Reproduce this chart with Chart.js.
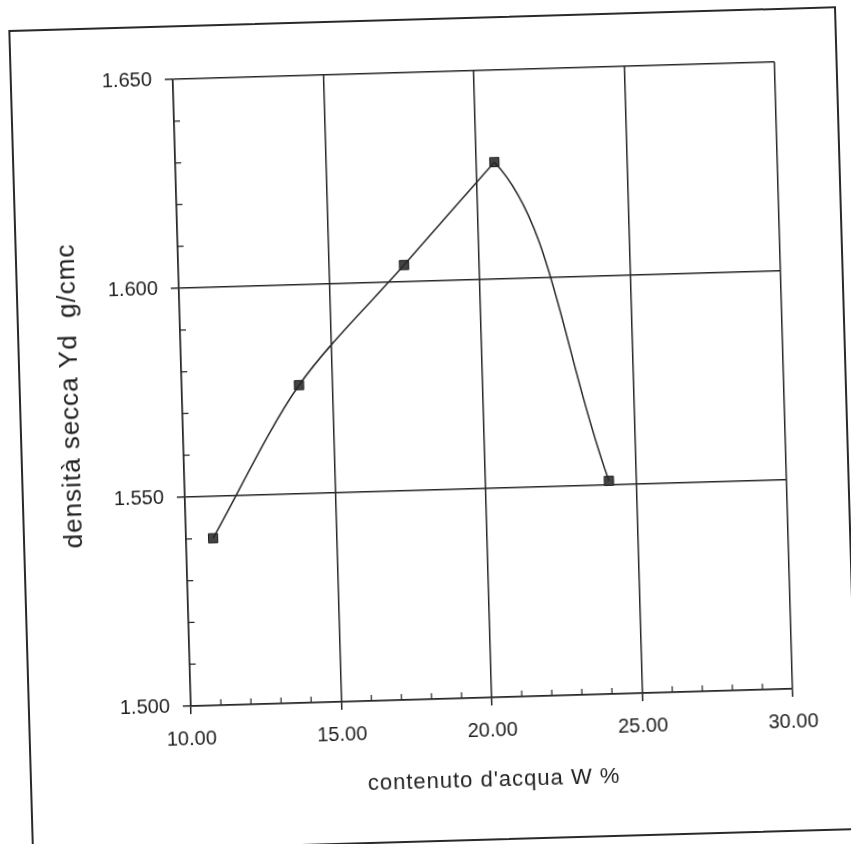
<!DOCTYPE html>
<html>
<head>
<meta charset="utf-8">
<script src="https://cdn.jsdelivr.net/npm/chart.js@4"></script>
<style>
  html, body { margin: 0; padding: 0; background: #fff; }
  body { width: 851px; height: 844px; overflow: hidden; position: relative; }
  .sheet {
    position: absolute; left: 20px; top: 18px;
    width: 828px; height: 824px; box-sizing: border-box;
    border: 2px solid #2a2a2a;
    transform: rotate(-1.65deg);
  }
  .sheet canvas { display: block; }
</style>
</head>
<body>
<div class="sheet">
  <canvas id="proctor" width="824" height="808"></canvas>
</div>
<script>
// dati prova di costipamento
const waterContent = [10.9, 13.9, 17.5, 20.6, 24.1];
const dryDensity = [1.540, 1.576, 1.604, 1.628, 1.551];
const xTicks = [10, 15, 20, 25, 30];
const yTicks = [1.500, 1.550, 1.600, 1.650];

const ink = '#262626';
const font = '"Liberation Sans", Arial, Helvetica, sans-serif';

const points = waterContent.map((w, i) => ({ x: w, y: dryDensity[i] }));
const peak = dryDensity.indexOf(Math.max(...dryDensity));
const dryBranch = points.slice(0, peak + 1);   // fino all'optimum
const wetBranch = points.slice(peak - 1);      // optimum -> lato umido

// piccole tacche interne (ogni 1 % e ogni 0.010)
const minorTicks = {
  id: 'minorTicks',
  beforeDraw(chart) { chart.ctx.letterSpacing = '1px'; },        // titoli assi un po' larghi
  beforeDatasetsDraw(chart) { chart.ctx.letterSpacing = '0px'; }, // etichette normali
  afterDatasetsDraw(chart) {
    const { ctx, chartArea, scales } = chart;
    ctx.save();
    ctx.strokeStyle = ink;
    ctx.lineWidth = 1.2;
    ctx.beginPath();
    for (let v = 11; v < 30; v++) {
      if (v % 5 === 0) continue;
      const x = scales.x.getPixelForValue(v);
      ctx.moveTo(x, chartArea.bottom);
      ctx.lineTo(x, chartArea.bottom - 6);
    }
    for (let i = 1; i < 15; i++) {
      if (i % 5 === 0) continue;
      const y = scales.y.getPixelForValue(1.5 + i * 0.01);
      ctx.moveTo(chartArea.left, y);
      ctx.lineTo(chartArea.left + 6, y);
    }
    ctx.stroke();
    ctx.restore();
  }
};

new Chart(document.getElementById('proctor'), {
  type: 'scatter',
  data: {
    datasets: [{
      data: dryBranch,
      showLine: true,
      tension: 0.3,
      borderColor: ink,
      borderWidth: 1.5,
      pointRadius: 0
    }, {
      data: wetBranch,
      showLine: true,
      tension: 0.4,
      borderColor: ink,
      borderWidth: 1.5,
      pointRadius: 0,
      segment: { borderColor: c => c.p0DataIndex === 0 ? 'transparent' : ink }
    }, {
      data: points,
      showLine: false,
      pointStyle: 'rect',
      pointRadius: 6.5,
      pointBackgroundColor: '#444',
      pointBorderColor: '#1e1e1e',
      pointBorderWidth: 1
    }]
  },
  options: {
    responsive: false,
    animation: false,
    layout: { padding: { left: 30, top: 52, right: 61, bottom: 29 } },
    plugins: { legend: { display: false }, tooltip: { enabled: false } },
    scales: {
      x: {
        type: 'linear', min: 10, max: 30,
        afterBuildTicks: s => { s.ticks = xTicks.map(v => ({ value: v })); },
        afterFit: s => { s.height = 100; },
        grid: { color: ink, lineWidth: 1.5, tickLength: 8, tickColor: ink },
        border: { color: ink, width: 1.5 },
        ticks: { z: 1, color: '#222', font: { family: font, size: 20 }, padding: 13, callback: v => Number(v).toFixed(2) },
        title: { display: true, text: "contenuto d'acqua W %", color: '#222', font: { family: font, size: 22 } }
      },
      y: {
        type: 'linear', min: 1.5, max: 1.65,
        afterBuildTicks: s => { s.ticks = yTicks.map(v => ({ value: v })); },
        afterFit: s => { s.width = 131; },
        grid: { color: ink, lineWidth: 1.5, tickLength: 8, tickColor: ink },
        border: { color: ink, width: 1.5 },
        ticks: { z: 1, color: '#222', font: { family: font, size: 20 }, padding: 13, callback: v => Number(v).toFixed(3) },
        title: { display: true, text: 'densità secca Yd  g/cmc', color: '#222', font: { family: font, size: 26 } }
      }
    }
  },
  plugins: [minorTicks]
});
</script>
</body>
</html>
